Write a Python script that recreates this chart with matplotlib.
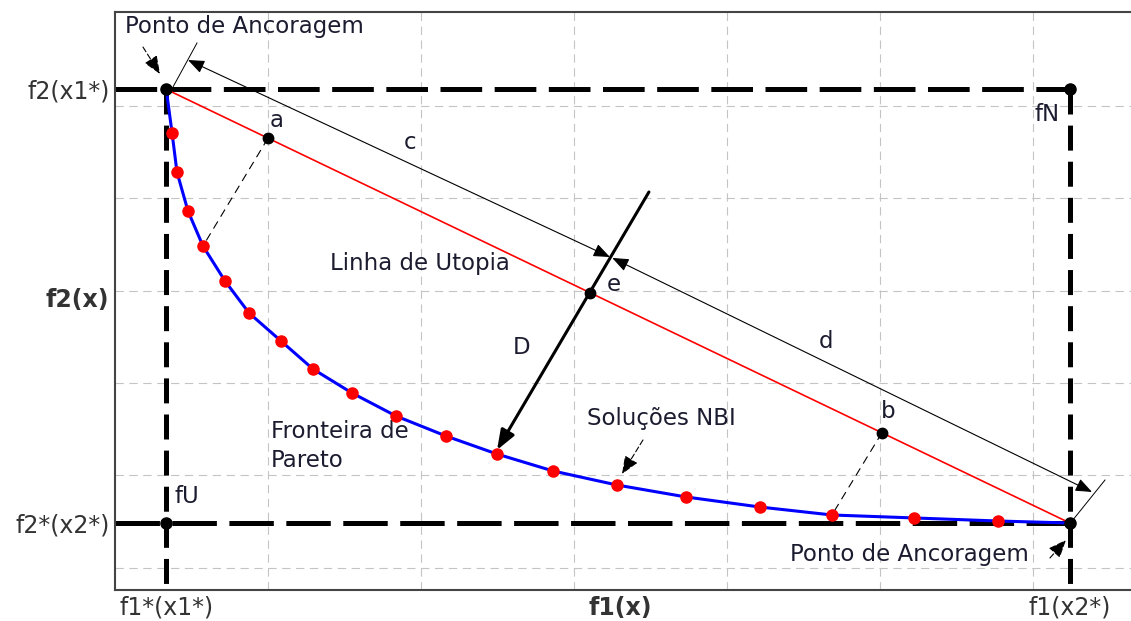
import numpy as np
import matplotlib
matplotlib.use('Agg')
import matplotlib.pyplot as plt

plt.rcParams['font.family'] = ['DejaVu Sans']
plt.rcParams['lines.scale_dashes'] = False

# Pontos de ancoragem / utopia / nadir
f1Min, f1Max = 0.335, 6.242
f2Min, f2Max = 0.486, 5.175

# Fronteira de Pareto (solucoes NBI)
f1Pareto = [0.373, 0.405, 0.477, 0.575, 0.719, 0.876, 1.085, 1.294, 1.549, 1.837,
            2.163, 2.497, 2.863, 3.281, 3.732, 4.216, 4.686, 5.222, 5.771]
f2Pareto = [4.703, 4.281, 3.859, 3.481, 3.103, 2.757, 2.454, 2.151, 1.892, 1.643,
            1.427, 1.232, 1.049, 0.897, 0.768, 0.659, 0.573, 0.541, 0.508]

# pontos a, e, b na linha de utopia
f1Utop = [1.0, 3.105, 5.013]
f2Utop = [4.647, 2.976, 1.462]
utopLabels = ['a', 'e', 'b']

# projecoes a -> fronteira, b -> fronteira
projA = ([1.0, 0.575], [4.647, 3.481])
projB = ([5.013, 4.686], [1.462, 0.573])

# linha paralela (c / d) e extensoes
cStart, cEnd = (0.477, 5.492), (3.235, 3.362)
dStart, dEnd = (3.250, 3.352), (6.386, 0.822)
ext1 = ([0.379, 0.536], [5.20, 5.676])
ext2 = ([6.261, 6.471], [0.519, 0.951])

# normal D
dTop, dBottom = (3.490, 4.065), (2.497, 1.276)

xTicks = [0.335, 3.30, 6.242]
xTickLabels = ['f1*(x1*)', 'f1(x)', 'f1(x2*)']
yTicks = [5.175, 2.919, 0.486]
yTickLabels = ['f2(x1*)', 'f2(x)', 'f2*(x2*)']

txtColor = '#1c1c30'

fig = plt.figure(figsize=(11.31, 6.21), dpi=100)
ax = fig.add_axes([115 / 1131, 31 / 621, 1016 / 1131, 578 / 621])
ax.set_xlim(0, 6.641)
ax.set_ylim(-0.238, 6.011)

# grade cinza tracejada
for gx in range(1, 7):
    ax.axvline(gx, color='#c4c4c4', linewidth=0.8, dashes=(6, 4), zorder=0)
for gy in range(0, 6):
    ax.axhline(gy, color='#c4c4c4', linewidth=0.8, dashes=(6, 4), zorder=0)

# linhas tracejadas grossas
ax.plot([0, f1Max], [f2Max, f2Max], color='black', linewidth=3.6, dashes=(30, 9), zorder=2)
ax.plot([0, f1Max], [f2Min, f2Min], color='black', linewidth=3.6, dashes=(32, 9), zorder=2)
ax.plot([f1Min, f1Min], [f2Max, -0.3], color='black', linewidth=3.6, dashes=(18, 8), zorder=2)
ax.plot([f1Max, f1Max], [f2Max, -0.3], color='black', linewidth=3.6, dashes=(18, 8), zorder=2)

# linha de utopia
ax.plot([f1Min, f1Max], [f2Max, f2Min], color='red', linewidth=1.2, zorder=3)

# fronteira de pareto
ax.plot([f1Min] + f1Pareto + [f1Max], [f2Max] + f2Pareto + [f2Min],
        color='blue', linewidth=2.2, zorder=4)
ax.plot(f1Pareto, f2Pareto, 'o', color='red', markersize=8, zorder=5)

# pontos de ancoragem, fU, fN
ax.plot([f1Min, f1Max, f1Min, f1Max], [f2Max, f2Min, f2Min, f2Max], 'o',
        color='black', markersize=8, zorder=6)
ax.plot(f1Utop, f2Utop, 'o', color='black', markersize=7.5, zorder=6)

# projecoes
for px, py in (projA, projB):
    ax.plot(px, py, color='black', linewidth=0.8, dashes=(6, 4), zorder=3)

# extensoes
ax.plot(*ext1, color='black', linewidth=0.7, zorder=3)
ax.plot(*ext2, color='black', linewidth=0.7, zorder=3)

# c e d com setas duplas
arrowKw = dict(arrowstyle='<|-|>,head_length=1.0,head_width=0.4', color='black',
               linewidth=0.8, shrinkA=0, shrinkB=0, mutation_scale=10)
ax.annotate('', xy=cEnd, xytext=cStart, arrowprops=arrowKw, zorder=3)
ax.annotate('', xy=dEnd, xytext=dStart, arrowprops=arrowKw, zorder=3)

# normal D
ax.annotate('', xy=dBottom, xytext=dTop,
            arrowprops=dict(arrowstyle='-|>,head_length=1.2,head_width=0.45', color='black',
                            linewidth=2.2, shrinkA=0, shrinkB=0, mutation_scale=10), zorder=7)

# pequenas setas tracejadas
smallKw = dict(arrowstyle='-|>,head_length=1.1,head_width=0.45', color='black',
               linewidth=0.8, linestyle=(0, (4, 2)), shrinkA=0, shrinkB=0, mutation_scale=10)
ax.annotate('', xy=(0.294, 5.341), xytext=(0.183, 5.632), arrowprops=smallKw)
ax.annotate('', xy=(6.216, 0.303), xytext=(6.111, 0.108), arrowprops=smallKw)
ax.annotate('', xy=(3.314, 1.016), xytext=(3.451, 1.384), arrowprops=smallKw)

# textos
fs = 16.5
ax.text(0.065, 5.849, 'Ponto de Ancoragem', fontsize=fs, color=txtColor, va='center')
ax.text(4.412, 0.151, 'Ponto de Ancoragem', fontsize=fs, color=txtColor, va='center')
ax.text(1.405, 3.297, 'Linha de Utopia', fontsize=fs, color=txtColor, va='center')
ax.text(1.02, 1.32, 'Fronteira de\nPareto', fontsize=fs, color=txtColor, va='center',
        linespacing=1.3)
ax.text(3.085, 1.611, 'Soluções NBI', fontsize=fs, color=txtColor, va='center')
ax.text(0.386, 0.768, 'fU', fontsize=fs, color=txtColor, va='center')
ax.text(6.013, 4.908, 'fN', fontsize=fs, color=txtColor, va='center')
ax.text(1.928, 4.595, 'c', fontsize=fs, color=txtColor, va='center', ha='center')
ax.text(4.647, 2.454, 'd', fontsize=fs, color=txtColor, va='center', ha='center')
ax.text(2.660, 2.389, 'D', fontsize=fs, color=txtColor, va='center', ha='center')
labelPos = [(1.055, 4.843), (3.261, 3.06), (5.052, 1.697)]
for lab, (lx, ly) in zip(utopLabels, labelPos):
    ax.text(lx, ly, lab, fontsize=fs, color=txtColor, va='center', ha='center')

# eixos
ax.set_xticks(xTicks)
ax.set_xticklabels(xTickLabels, fontsize=17, color='#333333')
ax.set_yticks(yTicks)
ax.set_yticklabels(yTickLabels, fontsize=17, color='#333333')
for i in (1,):
    ax.get_xticklabels()[i].set_fontweight('bold')
    ax.get_yticklabels()[i].set_fontweight('bold')
ax.tick_params(length=0, pad=4)
for side in ('left', 'top', 'bottom'):
    ax.spines[side].set_color('#444444')
    ax.spines[side].set_linewidth(1.5)
ax.spines['right'].set_visible(False)

fig.savefig('out.png', dpi=100)
plt.close(fig)
